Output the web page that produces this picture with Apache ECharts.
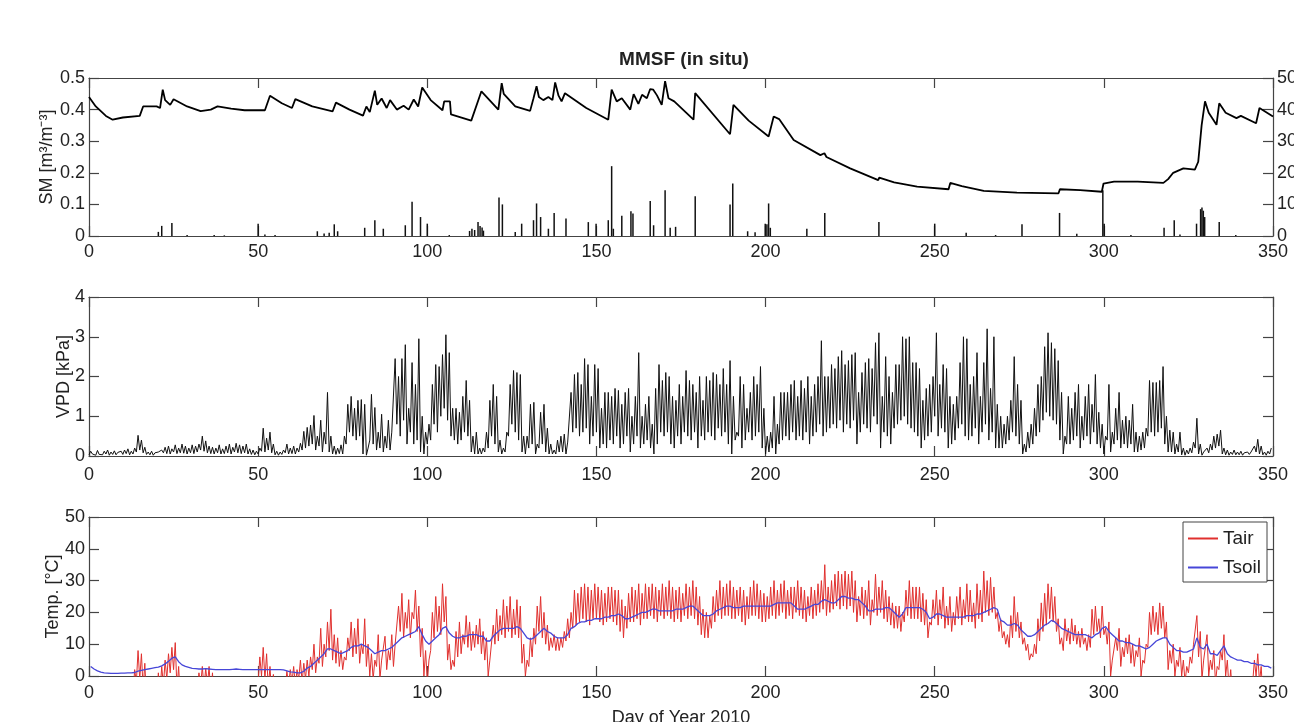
<!DOCTYPE html>
<html>
<head>
<meta charset="utf-8">
<script src="https://cdn.jsdelivr.net/npm/echarts@6/dist/echarts.min.js"></script>
<style>
  html, body { margin: 0; padding: 0; background: #fff; }
  #chart { width: 1294px; height: 722px; }
</style>
</head>
<body>
<div id="chart"></div>
<script>
// soil moisture (day, m3/m3)
var smDay = [0,2,5,7,10,15,16,20,21,21.8,22.5,24,25,29,33,36,38,42,46,52,53.5,57,60,61,66,72,73,77,81,82,83,84.5,85.2,86.5,88,89,91,93,94.5,96,97.3,98.5,101,104.5,105,106.7,107,113,116,121,122,122.6,126,130.4,131.4,132.3,133,134.3,135.8,137,137.8,138.8,139.7,140.7,147,153.5,154.5,156,157.5,160,161,162.4,163.5,164.9,165.9,166.8,167.9,169.3,170.3,171.3,173,178.7,179.2,189.5,190.5,195,200.9,202.4,204,208.3,216.2,217.4,218,225,233.3,233.6,238,244.8,254.1,254.6,258,264.5,274.3,286.6,287,293,299.4,299.9,303,310,317.6,319,320.5,323.5,326.9,327.9,328.9,329.9,331,333.3,334.1,336,339.2,340.5,345,346,350];
var smVal = [0.44,0.41,0.38,0.368,0.375,0.38,0.41,0.41,0.405,0.463,0.43,0.415,0.433,0.41,0.395,0.4,0.41,0.403,0.398,0.398,0.444,0.42,0.405,0.433,0.41,0.394,0.422,0.4,0.381,0.41,0.392,0.46,0.415,0.435,0.405,0.43,0.4,0.412,0.4,0.432,0.41,0.47,0.43,0.398,0.426,0.426,0.385,0.365,0.458,0.4,0.484,0.45,0.41,0.396,0.436,0.474,0.44,0.43,0.44,0.43,0.486,0.444,0.426,0.452,0.405,0.368,0.463,0.426,0.436,0.4,0.449,0.418,0.447,0.436,0.465,0.463,0.445,0.415,0.49,0.436,0.426,0.368,0.452,0.322,0.415,0.365,0.315,0.378,0.37,0.304,0.256,0.262,0.25,0.214,0.177,0.185,0.17,0.156,0.148,0.168,0.158,0.143,0.137,0.135,0.148,0.145,0.14,0.166,0.172,0.172,0.168,0.18,0.2,0.214,0.21,0.235,0.35,0.426,0.39,0.352,0.42,0.39,0.373,0.38,0.357,0.405,0.378];

// precipitation (day, mm) on right axis
var rainDay = [20.5,21.5,24.5,29,37,40,50,52,55,67.5,69.5,71,72.5,73.5,81.5,84.5,87,93.5,95.5,98,100,106.5,112.5,113.2,114,115,115.6,116.2,116.6,121.2,122.2,126,127.9,131.4,132.3,133.5,135.8,137.5,141,147.6,149.9,153.5,154.5,155,157.5,160.2,160.8,165.9,166.9,170.3,171.8,173.4,179.2,189.5,190.3,194.7,196.9,199.9,200.4,200.9,201.4,212.2,217.5,233.5,250,259.3,268,275.8,286.9,292,299.7,300.1,308,317.8,320.8,322.5,327.4,328.6,329,329.4,329.8,334.1,339];
var rainVal = [1.3,3.2,4.1,0.3,0.3,0.2,3.9,0.5,0.3,1.5,0.8,1,3.7,1.5,2.6,5,2.3,3.4,10.8,6,3.9,0.3,1.6,2.3,1.9,4.4,3.2,2.7,1.7,12.2,10,1.3,3.9,5,10.3,6,2.3,7.3,5.5,4.4,3.9,5,22.1,2.3,6.4,7.8,7.1,11.1,3.4,14.5,2.6,2.9,12.6,10,16.6,1.5,1.2,3.9,3.7,10.3,2.6,2.3,7.3,4.4,3.9,1,0.3,3.7,7.3,0.7,14.5,3.9,0.3,2.6,5,0.5,3.9,8.5,9,8,6,4.4,0.3];

// VPD daily max / min (kPa), index = day of year
var vpdMax = [
  0.12,0.10,0.14,0.08,0.12,0.15,0.10,0.13,0.09,0.12,
  0.15,0.18,0.12,0.20,0.52,0.40,0.22,0.10,0.12,0.08,
  0.10,0.15,0.22,0.25,0.18,0.28,0.20,0.30,0.25,0.20,
  0.28,0.25,0.30,0.50,0.38,0.25,0.22,0.20,0.28,0.18,
  0.25,0.30,0.22,0.32,0.28,0.25,0.30,0.18,0.15,0.12,
  0.20,0.70,0.45,0.60,0.30,0.12,0.10,0.15,0.30,0.20,
  0.25,0.20,0.32,0.62,0.72,0.78,1.02,0.50,0.90,0.60,
  1.60,0.50,0.25,0.20,0.28,0.50,1.30,1.50,1.20,1.40,
  1.42,1.30,0.20,1.55,1.22,0.60,1.05,0.50,0.90,0.60,
  2.45,2.00,2.45,2.80,1.20,2.35,1.80,2.95,1.00,0.60,
  0.80,1.80,2.30,2.25,2.55,3.05,2.60,1.20,1.20,1.10,
  1.50,1.90,1.40,0.50,0.60,0.20,0.20,0.60,1.40,1.80,
  1.50,0.40,0.20,0.60,1.80,2.15,2.10,2.05,0.50,0.50,
  1.30,1.35,0.30,1.10,1.30,0.70,0.30,0.15,0.40,0.50,
  0.55,0.35,1.60,2.05,2.10,1.80,2.45,2.30,1.50,2.30,
  2.20,1.20,1.60,1.60,1.50,1.70,1.65,1.30,1.60,1.70,
  1.00,1.50,2.60,1.00,1.30,1.50,0.80,1.70,2.30,1.90,
  2.10,2.00,1.50,1.40,1.80,1.50,2.15,1.90,1.80,1.60,
  2.00,1.40,2.00,1.90,2.10,2.05,1.80,2.20,1.80,2.40,
  1.50,0.60,2.00,1.80,1.20,1.60,2.00,1.80,2.25,1.20,
  0.50,0.60,1.50,0.80,1.60,1.60,1.60,1.80,1.90,1.50,
  1.90,1.70,2.00,1.50,1.80,2.00,2.90,2.00,2.00,2.30,
  2.20,2.50,2.65,2.30,2.40,2.55,2.60,1.60,2.10,2.35,
  2.45,2.20,2.85,3.10,1.50,2.50,2.00,1.60,2.30,2.30,
  3.00,2.95,3.00,2.35,2.35,2.20,1.40,1.70,1.80,2.00,
  3.10,1.80,2.30,2.20,1.50,1.30,1.50,2.35,3.00,2.95,
  1.80,2.00,2.60,1.50,2.35,3.20,1.70,3.00,1.30,1.00,
  0.80,1.00,1.40,2.50,1.80,1.40,0.30,0.60,0.80,1.20,
  1.80,2.00,2.75,3.10,2.85,2.70,2.40,1.60,0.50,1.50,
  1.20,1.60,1.80,1.00,1.50,1.80,1.30,2.05,1.10,0.80,
  0.50,1.80,0.60,1.20,1.60,0.90,1.00,0.90,1.30,0.60,
  0.50,0.60,0.70,1.90,1.85,1.85,1.90,2.25,1.00,0.65,
  0.60,0.30,0.60,0.20,0.15,0.20,0.35,0.95,0.30,0.10,
  0.20,0.30,0.50,0.55,0.65,0.20,0.15,0.10,0.15,0.10,
  0.12,0.08,0.10,0.10,0.25,0.42,0.25,0.10,0.12,0.20
];
var vpdMin = [
  0.03,0.05,0.02,0.04,0.03,0.05,0.02,0.04,0.03,0.05,
  0.04,0.06,0.03,0.05,0.10,0.15,0.08,0.04,0.03,0.02,
  0.03,0.05,0.08,0.06,0.05,0.10,0.06,0.08,0.07,0.05,
  0.08,0.06,0.10,0.15,0.12,0.08,0.06,0.05,0.08,0.05,
  0.06,0.08,0.05,0.10,0.08,0.06,0.08,0.05,0.04,0.03,
  0.05,0.12,0.10,0.15,0.08,0.03,0.02,0.04,0.08,0.05,
  0.06,0.05,0.10,0.15,0.20,0.25,0.30,0.15,0.25,0.10,
  0.30,0.10,0.05,0.04,0.06,0.05,0.30,0.60,0.50,0.40,
  0.50,0.05,0.02,0.40,0.30,0.15,0.20,0.10,0.20,0.15,
  0.60,0.80,0.50,0.90,0.30,0.60,0.30,0.40,0.10,0.05,
  0.30,0.40,0.80,0.60,1.00,1.20,0.90,0.50,0.40,0.30,
  0.40,0.60,0.50,0.10,0.05,0.05,0.05,0.10,0.20,0.50,
  0.30,0.10,0.05,0.10,0.50,0.80,0.60,0.40,0.10,0.05,
  0.20,0.30,0.05,0.20,0.30,0.10,0.05,0.05,0.05,0.10,
  0.10,0.05,0.30,0.60,0.70,0.50,0.60,0.70,0.30,0.50,
  0.60,0.20,0.30,0.20,0.40,0.30,0.50,0.20,0.30,0.50,
  0.10,0.30,0.50,0.20,0.30,0.40,0.20,0.05,0.30,0.60,
  0.50,0.60,0.30,0.20,0.50,0.30,0.60,0.50,0.40,0.60,
  0.20,0.50,0.40,0.60,0.50,0.40,0.70,0.50,0.60,0.30,
  0.05,0.40,0.50,0.20,0.40,0.60,0.40,0.50,0.60,0.20,
  0.05,0.10,0.20,0.05,0.30,0.40,0.50,0.40,0.60,0.40,
  0.50,0.40,0.60,0.30,0.50,0.60,0.80,0.50,0.60,0.70,
  0.80,0.70,0.90,0.60,0.80,0.70,0.90,0.30,0.60,0.80,
  0.70,0.60,1.00,0.80,0.20,0.60,0.50,0.30,0.70,0.80,
  0.90,1.00,0.80,0.70,0.60,0.50,0.20,0.40,0.50,0.60,
  1.00,0.50,0.70,0.60,0.20,0.30,0.40,0.70,0.80,0.50,
  0.40,0.50,0.70,0.30,0.60,0.80,0.40,0.60,0.20,0.20,
  0.20,0.30,0.40,0.60,0.50,0.30,0.05,0.10,0.20,0.30,
  0.50,0.60,0.90,1.10,1.00,0.90,0.80,0.40,0.05,0.30,
  0.30,0.40,0.50,0.20,0.40,0.50,0.30,0.60,0.30,0.20,
  0.05,0.40,0.10,0.30,0.40,0.20,0.30,0.20,0.30,0.10,
  0.10,0.15,0.20,0.50,0.60,0.50,0.60,0.70,0.30,0.10,
  0.10,0.05,0.10,0.03,0.02,0.05,0.08,0.20,0.05,0.02,
  0.05,0.08,0.15,0.20,0.25,0.05,0.03,0.02,0.04,0.03,
  0.03,0.02,0.03,0.04,0.06,0.10,0.05,0.03,0.02,0.05
];

// air temperature daily max / min (degC), index = day of year
var tairMax = [
  -5,-4,-6,-3,-5,-4,-6,-5,-3,-4,
  -2,-3,-1,2,8,7,4,-1,-3,-2,
  1,3,5,7,9,10.5,3,-1,-3,-4,
  -2,-1,1,3,2.5,3,1,-1,-2,-3,
  -2,-1,-2,-3,-1,-2,-3,-2,-1,-1,
  6,9,7,3,0.5,-1,-2,-1,1.5,2,
  3,2,5,4,5,6,10,6,15,10,
  17,21,13,12,8,6,12,17,15,18,
  10,18,10,7,5,13,5,12.5,8,13,
  10,22,26,20,24,20,27,22,15,8,
  5,20,25,22,29,25,10,5,14,17,
  13,19,17,14,16,18,14,12,5,16,
  21,19,24,22,25,21,24,22,10,5,
  12,15,22,25,20,16,12,13,12,12,
  14,18,20,27,26,28,29,28,27,29,
  28,27,26,28,28,27,27,24,22,26,
  28,27,29,26,29,28,29,28,27,29,
  28,30,28,27,28,26,29,28,30,28,
  25,21,20,19,25,27,30,28,29,30,
  28,27,28,27,25,28,30,29,27,26,
  25,28,30,27,29,30,27,28,28,30,
  28,27,25,28,27,29,30,35,28,30,
  32,33,32,33,32,33,30,25,28,27,
  30,24,32,28,30,27,25,23,22,22,
  20,27,30,28,28,28,26,24,17,24,
  27,24,28,22,25,20,25,28,24,29,
  27,23,29,27,33,30,31,28,20,18,
  14,13,19,25,20,17,12,10,7,10,
  18,23,26,29,28,25,18,12,18,15,
  18,16,14,15,12,13,21,22,18,22,
  15,17,5,12,15,9,12,13,10,8,
  12,5,10,20,22,20,23,22,17,8,
  10,5,9,5,3,6,10,19,14,5,
  13,5,8,3,8,13,5,2,-1,-2,
  -3,-2,-3,-1,5,7,3,-1,-2,-1
];
var tairMin = [
  -12,-10,-14,-11,-13,-12,-15,-13,-10,-12,
  -9,-10,-8,-6,-2,-1,-4,-8,-10,-9,
  -7,-5,-3,-1,1,2,-4,-8,-10,-11,
  -9,-8,-5,-3,-4,-3,-6,-8,-9,-10,
  -9,-8,-9,-10,-8,-9,-10,-9,-8,-7,
  -2,0,-1,-4,-6,-8,-9,-7,-4,-3,
  -2,-3,-1,-2,-1,0,2,1,4,3,
  6,8,5,4,3,2,5,8,6,7,
  4,7,3,0,-1,3,-1,5,2,5,
  3,10,14,12,15,12,18,14,6,0,
  -2,8,12,14,13,17,5,2,3,6,
  7,10,9,8,9,10,7,5,0,5,
  10,11,13,12,14,12,13,12,4,0,
  3,6,10,14,12,10,8,9,8,8,
  9,11,12,15,16,17,18,17,16,18,
  18,17,16,17,18,17,16,14,12,15,
  17,17,18,16,18,18,19,18,17,19,
  18,19,18,17,18,17,19,18,19,18,
  16,13,12,12,15,17,19,18,19,19,
  18,18,19,17,16,18,19,19,18,17,
  17,18,19,18,19,20,18,19,18,20,
  19,18,17,19,18,19,20,21,19,20,
  21,22,21,22,21,22,20,17,19,18,
  19,16,20,19,20,18,17,16,15,15,
  14,17,19,18,18,18,17,16,12,16,
  18,16,18,15,16,14,16,18,16,18,
  17,17,15,18,17,20,19,20,18,14,
  12,10,9,12,14,12,10,8,5,6,
  7,11,14,16,18,17,14,10,8,11,
  10,11,10,9,10,8,9,13,14,12,
  13,10,0,5,8,3,6,7,4,3,
  6,0,4,9,13,14,13,15,12,2,
  4,0,3,0,-2,1,4,10,6,-1,
  5,0,2,-2,2,5,0,-4,-6,-8,
  -9,-10,-8,-7,-2,0,-2,-6,-8,-7
];

// soil temperature daily (degC)
var tsoil = [
  3,2.2,1.6,1.2,1,0.9,0.8,0.8,0.8,0.9,
  0.9,1,1,1.1,1.5,1.8,2,2.2,2.4,2.6,
  2.8,3.2,3.8,4.6,5.6,6,4.5,3.5,3,2.7,
  2.4,2.3,2.2,2.2,2.3,2.2,2.1,2,2,2,
  2,2,2.1,2.2,2.1,2,2,2,2,2,
  2,2,2,2,2,2,2,1.9,1.6,1.3,
  1.2,1,1,1.5,2.5,3,4,5,6,7,
  8.5,8.5,8,7.5,7,7.5,8,9,9.5,9.5,
  10,9.5,9,8,7,7.5,8,8,8.5,9,
  10,11,12,12.5,13,13.5,14,15.5,13,11,
  10,11,12,13,15,15.5,13.5,12.5,12,12,
  12.5,12.5,13,13,13,12.5,12.5,11,11,12.5,
  13.5,14.5,15,15,15,15,15.5,15,13.5,12,
  11.5,12,13,14,15,14,13.5,12.5,12,12,
  12,13,15,15.5,16.5,17,17,17.5,17.5,18,
  18,18,18.5,18.5,19,19,19.5,19,18,18,
  18.5,19,19.5,20,20,20.5,21,21,20.5,20.5,
  20.5,20.5,20.5,21,21,21,21.5,22,22,21,
  20,19,19,19,19.5,20.5,21,21.5,22,22,
  21.5,21.5,21.5,22,22,22,22,22,22,22,
  22,22,22.5,23,23,23,23,23,22,21,
  21,21,21.5,22,22.5,22.5,23.5,24,23.5,23,
  23,24,25,25,24.5,24.5,24,24,23,22,
  20.5,20.5,21,21,21,21.5,21.5,20.5,19.5,18.5,
  19.5,21.5,21.5,21.5,21.5,21.5,21,20,18,18.5,
  19.5,19.5,19,18.5,18.5,18.5,18.5,18.5,18.5,19,
  19,19,19.5,19.5,20,20.5,21,21.5,21,17.5,
  17,16,16,16.5,16,14.5,13.5,12.5,12.5,13,
  14,15,16,16.5,17.5,17,16,15,14.5,14,
  13.5,13,13,13,13,12.5,12,13,13.5,15,
  15.5,14,13,12,11,11,10.5,10.5,10,9.5,
  9.5,9,8.5,9,10,11,11.5,12,12,10,
  9,8,8,7.5,7.5,8,8.5,12,9,8.5,
  10,7,7,6.5,8,9.5,7,6,5.5,5,
  5,4.5,4.5,4,4,3.5,3.5,3,3,2.5
];

var xTicks = [0, 50, 100, 150, 200, 250, 300, 350];

var FONT = "'Liberation Sans', Arial, sans-serif";
var AX = '#444';

function pairs(xs, ys) {
  var out = [];
  for (var i = 0; i < xs.length; i++) out.push([xs[i], ys[i]]);
  return out;
}
// one low and one high point per day
function daily(lo, hi) {
  var out = [];
  for (var d = 0; d < lo.length; d++) {
    out.push([d, lo[d]]);
    out.push([d + 0.5, hi[d]]);
  }
  return out;
}

function xAx(g, pos, labels, margin, name) {
  return {
    gridIndex: g, type: 'value', position: pos,
    min: xTicks[0], max: xTicks[xTicks.length - 1], interval: 50,
    axisLine: { show: true, onZero: false, lineStyle: { color: AX, width: 1.2 } },
    axisTick: { show: true, inside: true, length: 10, lineStyle: { color: AX, width: 1.2 } },
    axisLabel: { show: labels, color: '#222', fontSize: 18, margin: margin || 8, fontFamily: FONT },
    splitLine: { show: false },
    name: name || '', nameLocation: 'middle', nameGap: 33, nameMoveOverlap: false,
    nameTextStyle: { color: '#222', fontSize: 18, fontFamily: FONT }
  };
}
function yAx(g, pos, min, max, step, labels, name, gap) {
  return {
    gridIndex: g, type: 'value', position: pos,
    min: min, max: max, interval: step,
    axisLine: { show: true, onZero: false, lineStyle: { color: AX, width: 1.2 } },
    axisTick: { show: true, inside: true, length: 10, lineStyle: { color: AX, width: 1.2 } },
    axisLabel: { show: labels, color: '#222', fontSize: 18, margin: 4, fontFamily: FONT },
    splitLine: { show: false },
    name: name || '', nameLocation: 'middle', nameGap: gap || 30, nameRotate: 90,
    nameMoveOverlap: false,
    nameTextStyle: { color: '#222', fontSize: 18, fontFamily: FONT }
  };
}

var chart = echarts.init(document.getElementById('chart'));
chart.setOption({
  animation: false,
  backgroundColor: '#fff',
  title: {
    text: 'MMSF (in situ)', left: 679, top: 45, textAlign: 'center',
    textStyle: { color: '#222', fontSize: 19, fontWeight: 'bold', fontFamily: FONT }
  },
  grid: [
    { left: 89, right: 21, top: 78, height: 158, outerBoundsMode: 'none', containLabel: false },
    { left: 89, right: 21, top: 297, height: 159, outerBoundsMode: 'none', containLabel: false },
    { left: 89, right: 21, top: 517, height: 159, outerBoundsMode: 'none', containLabel: false }
  ],
  xAxis: [
    xAx(0, 'bottom', true, 7), xAx(0, 'top', false),
    xAx(1, 'bottom', true, 10), xAx(1, 'top', false),
    xAx(2, 'bottom', true, 8, 'Day of Year 2010'), xAx(2, 'top', false)
  ],
  yAxis: [
    yAx(0, 'left', 0, 0.5, 0.1, true, 'SM [m³/m⁻³]', 33), yAx(0, 'right', 0, 50, 10, true),
    yAx(1, 'left', 0, 4, 1, true, 'VPD [kPa]', 16), yAx(1, 'right', 0, 4, 1, false),
    yAx(2, 'left', 0, 50, 10, true, 'Temp. [°C]', 27), yAx(2, 'right', 0, 50, 10, false)
  ],
  legend: {
    data: ['Tair', 'Tsoil'], orient: 'vertical', left: 1183, top: 522,
    icon: 'rect', itemWidth: 30, itemHeight: 2, itemGap: 10,
    padding: [7, 6, 5, 5],
    backgroundColor: '#fff', borderColor: '#444', borderWidth: 1,
    textStyle: { color: '#222', fontSize: 19, fontFamily: FONT }
  },
  series: [
    {
      name: 'Precip', type: 'bar', xAxisIndex: 0, yAxisIndex: 1,
      data: pairs(rainDay, rainVal), barWidth: 1.5, color: '#111'
    },
    {
      name: 'SM', type: 'line', xAxisIndex: 0, yAxisIndex: 0,
      data: pairs(smDay, smVal), showSymbol: false, color: '#000',
      lineStyle: { color: '#000', width: 1.8 }
    },
    {
      name: 'VPD', type: 'line', xAxisIndex: 2, yAxisIndex: 2,
      data: daily(vpdMin, vpdMax), showSymbol: false, color: '#000',
      lineStyle: { color: '#111', width: 1 }
    },
    {
      name: 'Tair', type: 'line', xAxisIndex: 4, yAxisIndex: 4,
      data: daily(tairMin, tairMax), showSymbol: false, color: '#e0302e',
      lineStyle: { color: '#e0302e', width: 1 }
    },
    {
      name: 'Tsoil', type: 'line', xAxisIndex: 4, yAxisIndex: 4,
      data: pairs(tsoil.map(function (v, i) { return i + 0.5; }), tsoil),
      showSymbol: false, color: '#4646d8',
      lineStyle: { color: '#4646d8', width: 1.3 }
    }
  ]
});
</script>
</body>
</html>
